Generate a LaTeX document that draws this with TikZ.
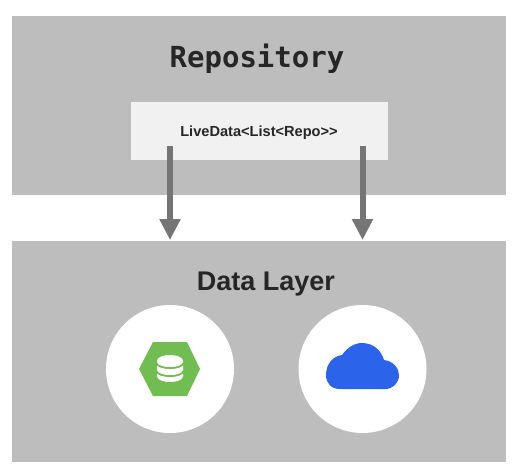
\documentclass[tikz,border=0pt]{standalone}
\usepackage{fontspec}
\setmainfont{Liberation Sans}
\newfontfamily\monof{DejaVu Sans Mono}
\usetikzlibrary{arrows.meta,shapes.geometric}
\definecolor{panelgray}{HTML}{BDBDBD}
\definecolor{boxlight}{HTML}{F1F1F1}
\definecolor{arrowgray}{HTML}{757575}
\definecolor{hexgreen}{HTML}{72BD52}
\definecolor{cloudblue}{HTML}{2B63EA}
\definecolor{inkdark}{HTML}{262626}
\tikzset{
  x=1pt,y=-1pt,
  panel/.style={fill=panelgray,draw=none,rectangle,inner sep=0pt,anchor=north west},
  whitedisc/.style={circle,fill=white,draw=none,minimum size=128pt,inner sep=0pt},
  flow/.style={draw=arrowgray,line width=6pt,-{Triangle[length=21pt,width=20pt,fill=arrowgray]},shorten >=0pt},
}
\begin{document}
\begin{tikzpicture}
\useasboundingbox (0,0) rectangle (518,469);
\fill[white] (0,0) rectangle (518,469);
\node[panel,minimum width=494pt,minimum height=179pt] (repo) at (12,16) {};
\node[panel,minimum width=494pt,minimum height=221pt] (layer) at (12,241) {};
\node[panel,fill=boxlight,minimum width=257pt,minimum height=58pt] (live) at (131,102) {};
\node[text=inkdark,font=\monof\bfseries\fontsize{29}{32}\selectfont] (repotitle) at (257,59) {Repository};
\node[text=inkdark,font=\bfseries\fontsize{14.6}{16}\selectfont] (livetext) at (259,132.5) {LiveData<List<Repo>{}>};
\node[text=inkdark,font=\bfseries\fontsize{27}{30}\selectfont] (layertitle) at (266,284) {Data Layer};
\node[whitedisc] (db) at (170,369) {};
\node[whitedisc] (cloud) at (362.5,369) {};
\coordinate (a1) at (170,146);
\coordinate (b1) at (170,240);
\coordinate (a2) at (362.5,146);
\coordinate (b2) at (362.5,240);
\draw[flow] (a1) -- (b1);
\draw[flow] (a2) -- (b2);
% hexagon
\fill[hexgreen] (139,369) -- (153,342) -- (187,342) -- (200,369) -- (187,396) -- (153,396) -- cycle;
% database stack
\fill[white] (157,361) .. controls (157,353) and (183,353) .. (183,361) -- (183,376)
  .. controls (183,384) and (157,384) .. (157,376) -- cycle;
\draw[hexgreen,line width=1.8pt] (156,362.5) .. controls (158,370) and (182,370) .. (184,362.5);
\draw[hexgreen,line width=1.8pt] (156,370.5) .. controls (158,378) and (182,378) .. (184,370.5);
% cloud
\fill[cloudblue] (340,389) .. controls (331,389) and (326,383) .. (326,375)
  .. controls (326,364) and (333,356) .. (342,355)
  .. controls (347,348) and (354,343) .. (362,343)
  .. controls (373,343) and (381,350) .. (384,360)
  .. controls (393,361) and (399,368) .. (399,375)
  .. controls (399,383) and (393,389) .. (385,389) -- cycle;
\end{tikzpicture}
\end{document}
